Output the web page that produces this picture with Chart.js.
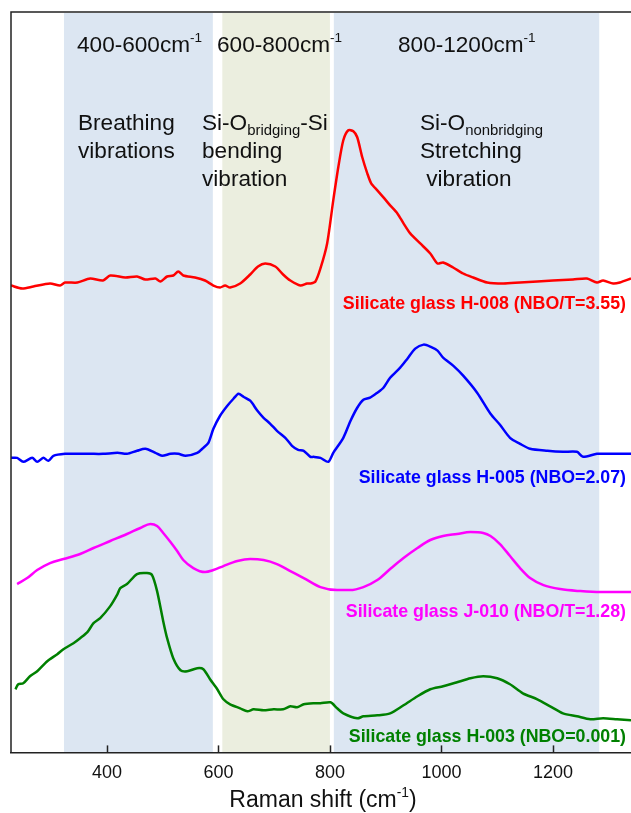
<!DOCTYPE html>
<html>
<head>
<meta charset="utf-8">
<script src="https://cdn.jsdelivr.net/npm/chart.js@4"></script>
<style>
  html, body { margin: 0; padding: 0; background: #fff; }
  canvas { display: block; }
</style>
</head>
<body>
<canvas id="ramanChart" width="631" height="813"></canvas>
<script>
// Raman shift (cm-1) and stacked intensity (a.u., offset per sample)
const h008Shift = [228, 248, 268, 298, 316, 325, 347, 370, 393, 406, 433, 454, 469, 487, 496, 508, 519, 528, 537, 558, 576, 591, 603, 612, 621, 639, 657, 671, 684, 702, 716, 729, 747, 759, 765, 774, 783, 795, 806, 815, 824, 833, 842, 849, 858, 867, 874, 885, 896, 908, 921, 932, 944, 962, 980, 993, 1003, 1021, 1039, 1057, 1082, 1111, 1141, 1172, 1200, 1236, 1261, 1279, 1290, 1308, 1320, 1340];
const h008Int = [466, 463, 465, 468, 466, 469, 469, 473, 471, 476, 474, 475, 472, 473, 470, 475, 476, 480, 476, 474, 471, 466, 464, 466, 464, 468, 477, 485, 488, 485, 477, 471, 466, 468, 468, 470, 483, 508, 551, 584, 611, 621, 620, 614, 594, 578, 568, 561, 554, 546, 538, 528, 518, 508, 498, 488, 489, 484, 478, 474, 469, 468, 469, 470, 471, 472, 473, 469, 471, 468, 469, 473];

const h005Shift = [228, 239, 250, 266, 275, 286, 295, 304, 325, 347, 370, 393, 419, 436, 454, 469, 487, 499, 514, 528, 541, 562, 573, 582, 591, 603, 616, 627, 636, 645, 657, 670, 681, 693, 705, 720, 732, 743, 753, 765, 771, 783, 797, 806, 824, 837, 849, 860, 872, 885, 896, 908, 926, 939, 953, 968, 980, 993, 1003, 1021, 1039, 1064, 1088, 1105, 1123, 1141, 1159, 1190, 1218, 1243, 1254, 1279, 1308, 1340];
const h005Int = [294, 294, 290, 294, 290, 294, 291, 296, 298, 298, 298, 298, 299, 298, 301, 303, 299, 296, 298, 298, 296, 299, 304, 309, 323, 336, 346, 353, 358, 355, 351, 341, 334, 328, 321, 314, 306, 302, 301, 295, 295, 294, 290, 299, 314, 331, 344, 352, 354, 359, 364, 374, 384, 393, 403, 407, 405, 401, 394, 386, 376, 359, 338, 327, 314, 308, 303, 301, 300, 300, 295, 298, 298, 298];

const j010Shift = [239, 257, 275, 298, 322, 352, 376, 406, 436, 460, 478, 490, 501, 514, 526, 537, 555, 576, 591, 609, 634, 657, 681, 705, 729, 753, 783, 813, 836, 860, 885, 908, 932, 957, 980, 1003, 1028, 1052, 1075, 1088, 1105, 1123, 1141, 1159, 1183, 1213, 1249, 1285, 1340];
const j010Int = [168, 174, 182, 189, 193, 198, 204, 211, 218, 224, 228, 226, 219, 210, 201, 192, 184, 180, 182, 186, 191, 193, 192, 188, 181, 174, 165, 162, 162, 165, 172, 183, 194, 204, 212, 216, 218, 220, 219, 216, 208, 196, 184, 174, 167, 163, 161, 160, 160];

const h003Shift = [236, 241, 250, 262, 275, 293, 311, 322, 340, 352, 365, 376, 388, 406, 419, 424, 436, 454, 472, 481, 490, 501, 508, 519, 532, 544, 562, 573, 585, 598, 609, 621, 639, 652, 663, 681, 699, 716, 729, 741, 753, 771, 783, 801, 813, 824, 849, 860, 885, 908, 932, 957, 980, 1003, 1028, 1052, 1075, 1100, 1123, 1146, 1172, 1195, 1218, 1243, 1267, 1290, 1315, 1340];
const h003Int = [63, 68, 69, 76, 81, 91, 98, 103, 109, 114, 120, 129, 134, 146, 158, 164, 168, 178, 179, 177, 161, 131, 114, 94, 82, 81, 84, 83, 73, 63, 53, 48, 44, 41, 43, 42, 43, 43, 46, 45, 48, 49, 49, 50, 44, 39, 34, 36, 37, 39, 47, 56, 63, 66, 70, 74, 76, 74, 68, 59, 53, 46, 39, 36, 33, 34, 33, 32];

const seriesNames = [
  'Silicate glass H-008 (NBO/T=3.55)',
  'Silicate glass H-005 (NBO=2.07)',
  'Silicate glass J-010 (NBO/T=1.28)',
  'Silicate glass H-003 (NBO=0.001)'
];
const seriesColors = ['#ff0000', '#0000ff', '#ff00ff', '#008000'];

// vibration regions (cm-1)
const bandRanges = [[323, 590], [607, 800], [807, 1283]];
const bandColors = ['#dce6f2', '#ebeedf', '#dce6f2'];

const xTicks = [400, 600, 800, 1000, 1200];

const toPoints = (xs, ys) => xs.map((x, i) => ({ x, y: ys[i] }));

const FONT = "'Liberation Sans', Arial, sans-serif";

// draws text with sub/superscript pieces: [text, mode]
function richText(ctx, parts, x, y, size, color) {
  ctx.save();
  ctx.fillStyle = color;
  ctx.textBaseline = 'middle';
  ctx.textAlign = 'left';
  let cx = x;
  parts.forEach(([t, mode]) => {
    let s = size, dy = 0;
    if (mode === 'sup') { s = size * 0.6; dy = -size * 0.35; }
    if (mode === 'sub') { s = size * 0.66; dy = size * 0.3; }
    ctx.font = `${s}px ${FONT}`;
    ctx.fillText(t, cx, y + dy);
    cx += ctx.measureText(t).width;
  });
  ctx.restore();
}

const bandsPlugin = {
  id: 'bands',
  beforeDraw(chart) {
    const { ctx, chartArea, scales } = chart;
    ctx.save();
    bandRanges.forEach(([a, b], i) => {
      const x0 = scales.x.getPixelForValue(a);
      const x1 = scales.x.getPixelForValue(b);
      ctx.fillStyle = bandColors[i];
      ctx.fillRect(x0, chartArea.top + 1, x1 - x0, chartArea.bottom - chartArea.top - 1);
    });
    ctx.restore();
  }
};

const decorPlugin = {
  id: 'decor',
  afterDraw(chart) {
    const { ctx, chartArea, scales } = chart;
    const { left, right, top, bottom } = chartArea;
    ctx.save();
    ctx.strokeStyle = '#222';
    ctx.lineWidth = 1.5;
    ctx.beginPath();
    ctx.moveTo(left, bottom);
    ctx.lineTo(left, top);
    ctx.lineTo(right, top);
    ctx.stroke();
    // inward tick marks
    xTicks.forEach(v => {
      const px = Math.round(scales.x.getPixelForValue(v)) + 0.5;
      ctx.beginPath();
      ctx.moveTo(px, bottom);
      ctx.lineTo(px, bottom - 7);
      ctx.stroke();
    });
    ctx.restore();

    // region captions
    const cap = 22.6;
    richText(ctx, [['400-600cm'], ['-1', 'sup']], 77, 46, cap, '#111');
    richText(ctx, [['600-800cm'], ['-1', 'sup']], 217, 46, cap, '#111');
    richText(ctx, [['800-1200cm'], ['-1', 'sup']], 398, 46, cap, '#111');
    richText(ctx, [['Breathing']], 78, 124, cap, '#111');
    richText(ctx, [['vibrations']], 78, 152, cap, '#111');
    richText(ctx, [['Si-O'], ['bridging', 'sub'], ['-Si']], 202, 124, cap, '#111');
    richText(ctx, [['bending']], 202, 152, cap, '#111');
    richText(ctx, [['vibration']], 202, 180, cap, '#111');
    richText(ctx, [['Si-O'], ['nonbridging', 'sub']], 420, 124, cap, '#111');
    richText(ctx, [['Stretching']], 420, 152, cap, '#111');
    richText(ctx, [[' vibration']], 420, 180, cap, '#111');

    // sample labels
    const labelY = [304, 478, 612, 737];
    ctx.save();
    ctx.font = `bold 17.8px ${FONT}`;
    ctx.textAlign = 'right';
    ctx.textBaseline = 'middle';
    seriesNames.forEach((name, i) => {
      ctx.fillStyle = seriesColors[i];
      ctx.fillText(name, 626, labelY[i]);
    });
    ctx.restore();

    // axis title
    ctx.save();
    const main = 'Raman shift (cm';
    ctx.font = `23px ${FONT}`;
    const w1 = ctx.measureText(main).width;
    ctx.font = `13.8px ${FONT}`;
    const w2 = ctx.measureText('-1').width;
    ctx.font = `23px ${FONT}`;
    const w3 = ctx.measureText(')').width;
    ctx.restore();
    const startX = 323 - (w1 + w2 + w3) / 2;
    richText(ctx, [[main], ['-1', 'sup'], [')']], startX, 801, 23, '#111');
  }
};

new Chart(document.getElementById('ramanChart').getContext('2d'), {
  type: 'line',
  data: {
    datasets: [
      { label: seriesNames[0], data: toPoints(h008Shift, h008Int), borderColor: seriesColors[0], tension: 0.25 },
      { label: seriesNames[1], data: toPoints(h005Shift, h005Int), borderColor: seriesColors[1], tension: 0.25 },
      { label: seriesNames[2], data: toPoints(j010Shift, j010Int), borderColor: seriesColors[2], cubicInterpolationMode: 'monotone' },
      { label: seriesNames[3], data: toPoints(h003Shift, h003Int), borderColor: seriesColors[3], tension: 0.25 }
    ]
  },
  options: {
    responsive: false,
    animation: false,
    layout: { padding: { left: 11, top: 12, right: 0, bottom: 19 } },
    datasets: {
      line: { borderWidth: 2.5, pointRadius: 0, fill: false }
    },
    plugins: {
      legend: { display: false },
      tooltip: { enabled: false }
    },
    scales: {
      x: {
        type: 'linear',
        min: 228,
        max: 1340,
        grid: { display: false, drawTicks: false },
        border: { display: true, color: '#222', width: 1.5 },
        afterBuildTicks: axis => { axis.ticks = xTicks.map(value => ({ value })); },
        ticks: {
          font: { family: FONT, size: 18 },
          color: '#111',
          padding: 10,
          maxRotation: 0,
          callback: value => String(value)
        }
      },
      y: {
        display: false,
        min: 0,
        max: 739
      }
    }
  },
  plugins: [bandsPlugin, decorPlugin]
});
</script>
</body>
</html>
